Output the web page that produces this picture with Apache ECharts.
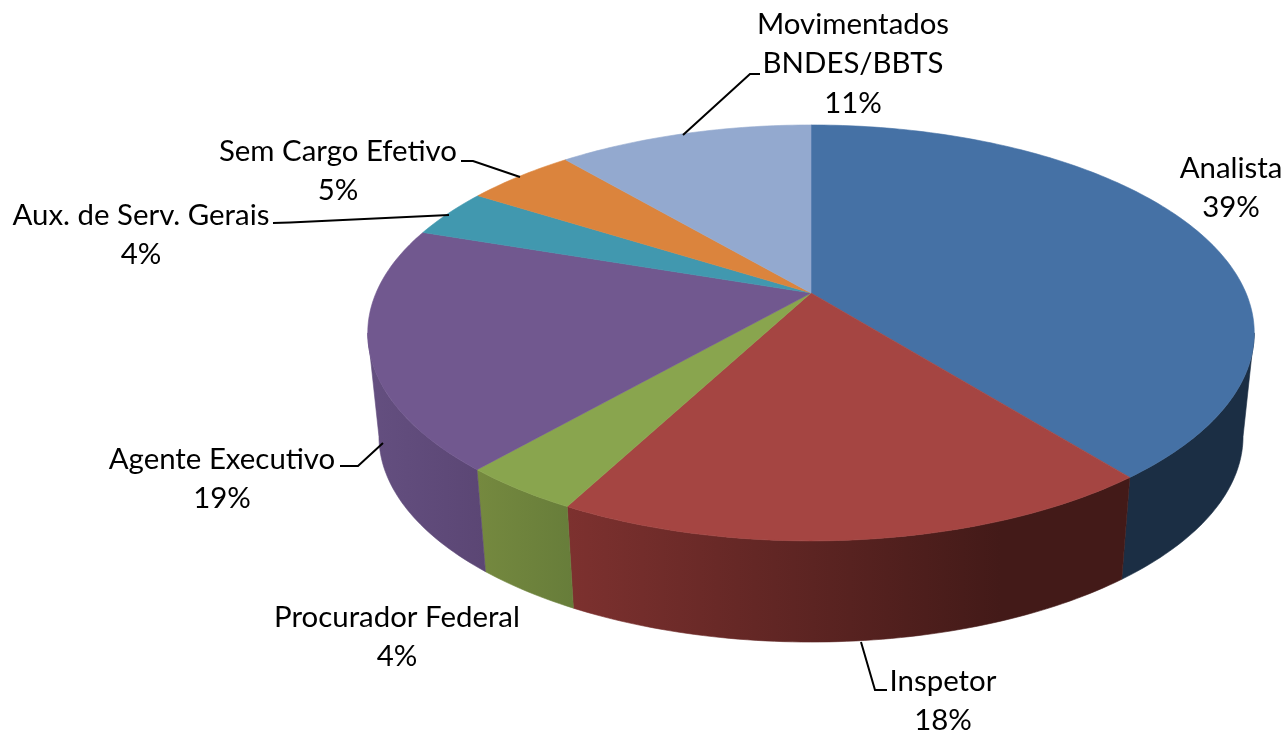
<!DOCTYPE html>
<html>
<head>
<meta charset="utf-8">
<title>Pie</title>
<style>
  html,body{margin:0;padding:0;background:#fff;}
  #chart{width:1287px;height:733px;}
</style>
<script src="https://cdn.jsdelivr.net/npm/echarts@6/dist/echarts.min.js"></script>
</head>
<body>
<div id="chart"></div>
<script>
var names=['Analista','Inspetor','Procurador Federal','Agente Executivo','Aux. de Serv. Gerais','Sem Cargo Efetivo','Movimentados\nBNDES/BBTS'];
//percent shares, estimated from the slice edges (labels show them rounded)
var shares=[39.3,18.4,3.7,18.8,3.8,4.8,11.2];

var topColors=['#4571a5','#a54542','#89a54e','#71588f','#4198af','#db843d','#93a9cf'];
//wall colours, left to right
var wallColors=[['#1b2e44','#1b2e44'],['#7d312f','#431a18'],['#75893f','#677d3a'],['#644f80','#5b4674'],null,null,null];

//text centres of the labels
var labelPos=[[1231,188],[943,701],[397,637],[222,479],[141,235],[338,171],[853,64]];
var leaders=[
  null,
  [[861,642],[875,690],[887,690]],
  null,
  [[340,466],[358,466],[383,443]],
  [[273,223],[290,222.5],[449,215]],
  [[461,161],[473,161],[520,177]],
  [[683,135],[750,74],[760,74]]
];

//perspective of the pie: apex, radius, vertical radius, foreshortening, wall
var cx=811,cy=293,R=435,H=200.3,k=0.192;
var R2=424,H2=198,DY=104;

function project(turn,rx,ry,dy){
  var a=turn*2*Math.PI;
  var u=Math.sin(a),v=-Math.cos(a),w=1-k*v;
  return [cx+rx*u/w,cy+dy+ry*v/w];
}
function arc(from,to,rx,ry,dy){
  var pts=[],n=Math.max(2,Math.ceil(Math.abs(to-from)*360));
  for(var i=0;i<=n;i++){
    pts.push(project(from+(to-from)*i/n,rx,ry,dy));
  }
  return pts;
}

var starts=[],sum=0;
shares.forEach(function(s){starts.push(sum);sum+=s;});

//part of the round that shows a wall
var wallFrom=(Math.PI-Math.acos(k))/(2*Math.PI),wallTo=1-wallFrom;

function renderTop(params,api){
  var i=params.dataIndex;
  var from=starts[i]/sum,to=(starts[i]+api.value(0))/sum;
  var pts=[[cx,cy]].concat(arc(from,to,R,H,0));
  return {
    type:'polygon',
    shape:{points:pts},
    style:{fill:topColors[i],stroke:topColors[i],lineWidth:0.6}
  };
}
function renderWall(params,api){
  var i=params.dataIndex;
  var from=Math.max(starts[i]/sum,wallFrom),to=Math.min((starts[i]+api.value(0))/sum,wallTo);
  if(to<=from||!wallColors[i]) return null;
  var up=arc(from,to,R,H,0),down=arc(from,to,R2,H2,DY).reverse();
  var pts=up.concat(down);
  var xs=pts.map(function(p){return p[0];});
  var x0=Math.min.apply(null,xs),x1=Math.max.apply(null,xs);
  var fill={
    type:'linear',x:x0,y:0,x2:x1,y2:0,global:true,
    colorStops:[
      {offset:0,color:wallColors[i][0]},
      {offset:i==1?0.77:1,color:wallColors[i][1]},
      {offset:1,color:wallColors[i][1]}
    ]
  };
  return {
    type:'polygon',
    shape:{points:pts},
    style:{fill:fill,stroke:fill,lineWidth:0.6}
  };
}

var graphics=[];
names.forEach(function(name,i){
  graphics.push({
    type:'text',
    x:labelPos[i][0],
    y:labelPos[i][1],
    z:10,
    style:{
      text:name+'\n'+Math.round(shares[i])+'%',
      font:'29.4px Lato',
      lineHeight:39.5,
      fill:'#000',
      align:'center',
      verticalAlign:'middle'
    }
  });
  if(leaders[i]){
    graphics.push({
      type:'polyline',
      z:10,
      shape:{points:leaders[i]},
      style:{stroke:'#000',lineWidth:2,fill:null}
    });
  }
});

var chart=echarts.init(document.getElementById('chart'));
chart.setOption({
  animation:false,
  backgroundColor:'#fff',
  graphic:graphics,
  series:[
    {type:'custom',coordinateSystem:'none',renderItem:renderWall,data:shares,z:1,silent:true},
    {type:'custom',coordinateSystem:'none',renderItem:renderTop,data:shares,z:2,silent:true}
  ]
});
</script>
</body>
</html>
